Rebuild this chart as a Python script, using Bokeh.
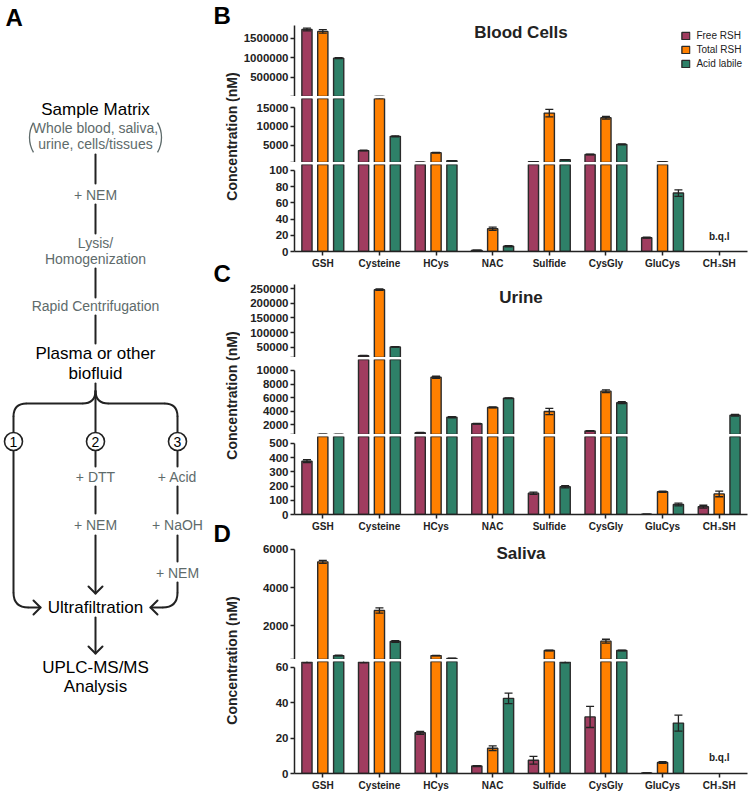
import math
import numpy as np
from bokeh.plotting import figure
from bokeh.models import (ColumnDataSource, FactorRange, Range1d, FixedTicker,
                          NumeralTickFormatter, Label, Legend, LegendItem, CDSView, BooleanFilter)
from bokeh.transform import dodge
from bokeh.layouts import row, column
from bokeh.embed import file_html
from bokeh.resources import INLINE
from bokeh.core.properties import value

NAN = float("nan")

# ------------------------------------------------------------------ data
categories = ["GSH", "Cysteine", "HCys", "NAC", "Sulfide", "CysGly", "GluCys", "CH₃SH"]
series = ["Free RSH", "Total RSH", "Acid labile"]

blood_free = [1717000, 3550, 430, 1.5, 600, 2500, 17, NAN]
blood_free_sd = [35000, 100, 20, 0.3, 30, 80, 0.6, NAN]
blood_total = [1667000, 17700, 3000, 28, 13550, 12300, 550, NAN]
blood_total_sd = [45000, 300, 100, 2, 1000, 350, 15, NAN]
blood_acid = [990000, 7350, 850, 6.5, 1100, 5200, 72, NAN]
blood_acid_sd = [15000, 150, 50, 0.8, 60, 120, 4, NAN]

urine_free = [375, 22000, 820, 2150, 150, 1080, 2, 55]
urine_free_sd = [10, 1500, 40, 50, 8, 60, 0.5, 10]
urine_total = [580, 246000, 9000, 4550, 3950, 6950, 160, 145]
urine_total_sd = [10, 2500, 150, 60, 450, 200, 5, 20]
urine_acid = [575, 52000, 3100, 5900, 195, 5250, 70, 3400]
urine_acid_sd = [10, 1000, 100, 60, 8, 150, 10, 120]

saliva_free = [63, 63, 23, 4.2, 7.5, 32, 0.3, NAN]
saliva_free_sd = [0.5, 0.5, 0.8, 0.3, 2.2, 6, 0.1, NAN]
saliva_total = [5350, 2790, 420, 14.3, 690, 1180, 6.2, NAN]
saliva_total_sd = [80, 140, 15, 1.3, 15, 100, 0.5, NAN]
saliva_acid = [420, 1160, 270, 42.5, 63, 690, 28.5, NAN]
saliva_acid_sd = [20, 40, 10, 3, 0.5, 15, 4.5, NAN]

# tick labels of each axis segment (top to bottom)
blood_ticks = [[500000, 1000000, 1500000], [5000, 10000, 15000], [0, 20, 40, 60, 80, 100]]
urine_ticks = [[50000, 100000, 150000, 200000, 250000], [2000, 4000, 6000, 8000, 10000],
               [0, 100, 200, 300, 400, 500]]
saliva_ticks = [[2000, 4000, 6000], [0, 20, 40, 60]]

# ------------------------------------------------------------------ style / layout
FONT = "Liberation Sans"
INK = "#222222"
EDGE = "#2a2a2a"
GREY = "#5e6b6b"
COLORS = ["#A03C5F", "#FF8000", "#2E8068"]
KEYS = ["free", "total", "acid"]
OFFSETS = [-0.28, 0.0, 0.28]
BAR_W = 0.18
TOTAL_H = 793
A_W = 205
SIDE_W = 35
SEG_W = 509
LEFT_B = 53

# broken-axis segments: data range, axis-line limits, frame height, borders
blood_segs = [dict(start=17500, end=1817000, lo=17500, hi=1817000, h=71, bt=25, bb=0),
              dict(start=376, end=17440, lo=376, hi=15000, h=64, bt=2, bb=0),
              dict(start=0, end=107.2, lo=0, hi=100, h=89, bt=2, bb=18)]
urine_segs = [dict(start=16090, end=263560, lo=16090, hi=263560, h=73, bt=13, bb=0),
              dict(start=555, end=11623, lo=555, hi=10000, h=75, bt=2, bb=0),
              dict(start=0, end=548.6, lo=0, hi=500, h=79, bt=2, bb=19)]
saliva_segs = [dict(start=214, end=6210, lo=214, hi=6000, h=114, bt=11, bb=0),
               dict(start=0, end=63.33, lo=0, hi=60, h=114, bt=2, bb=18)]


def make_source(groups):
    data = {"cat": categories}
    for k, (m, s) in zip(KEYS, groups):
        m = np.array(m, dtype=float)
        s = np.array(s, dtype=float)
        data[k] = m
        data[k + "_hi"] = m + s
        data[k + "_lo"] = m - s
    return ColumnDataSource(data)


def bare(p):
    p.title.visible = False
    p.outline_line_color = None
    p.xgrid.visible = False
    p.ygrid.visible = False
    p.border_fill_color = "white"
    p.background_fill_color = "white"


def style_axis(ax):
    ax.axis_line_width = 1.5
    ax.axis_line_color = INK
    ax.major_tick_line_width = 1.5
    ax.major_tick_line_color = INK
    ax.major_tick_out = 4
    ax.major_tick_in = 0
    ax.minor_tick_line_color = None
    ax.major_label_text_font = FONT
    ax.major_label_text_font_style = "bold"
    ax.major_label_text_color = INK


def view(mask):
    return CDSView(filter=BooleanFilter(booleans=[bool(b) for b in mask]))


def segment_fig(src, xr, seg, ticks, xaxis):
    p = figure(width=SEG_W, height=seg["h"] + seg["bt"] + seg["bb"], x_range=xr,
               y_range=Range1d(seg["start"], seg["end"]), output_backend="svg",
               tools="", toolbar_location=None, x_axis_location="below" if xaxis else None,
               min_border_left=LEFT_B, min_border_right=2, min_border_top=seg["bt"],
               min_border_bottom=seg["bb"])
    bare(p)
    s0, s1 = seg["start"], seg["end"]
    rs = []
    with np.errstate(invalid="ignore"):
        for k, off, col in zip(KEYS, OFFSETS, COLORS):
            x = dodge("cat", off, range=xr)
            v = np.asarray(src.data[k])
            hi = np.asarray(src.data[k + "_hi"])
            lo = np.asarray(src.data[k + "_lo"])
            # only marks that reach into this axis segment
            r = p.vbar(x=x, top=k, bottom=0, width=BAR_W, source=src, view=view(v > s0),
                       fill_color=col, line_color=EDGE, line_width=1.4)
            p.segment(x0=x, y0=k + "_lo", x1=x, y1=k + "_hi", source=src,
                      view=view((hi > s0) & (lo < s1)), line_color=INK, line_width=1.3)
            for end, arr in (("_hi", hi), ("_lo", lo)):
                p.scatter(x=x, y=k + end, source=src, view=view((arr > s0) & (arr < s1)),
                          marker="dash", size=8, line_color=INK, line_width=1.3)
            rs.append(r)
    ya = p.yaxis[0]
    style_axis(ya)
    tick_list = list(ticks)
    if not xaxis and seg["lo"] not in tick_list:
        # unlabeled end tick where the axis is broken
        tick_list = [seg["lo"]] + tick_list
        ya.major_label_overrides = {seg["lo"]: ""}
    ya.ticker = FixedTicker(ticks=tick_list)
    ya.formatter = NumeralTickFormatter(format="0")
    ya.bounds = (seg["lo"], seg["hi"])
    ya.major_label_text_font_size = "11.5px"
    ya.major_label_standoff = 2
    if xaxis:
        xa = p.xaxis[0]
        style_axis(xa)
        xa.major_label_text_font_size = "10px"
        xa.major_label_standoff = 2
    return p, rs


def px_to_y(seg, px):
    return seg["end"] - px * (seg["end"] - seg["start"]) / seg["h"]


def panel(src, segs, ticks, title, title_px, legend=False, bql_y=None):
    xr = FactorRange(factors=categories)
    figs = []
    for i, (seg, tk) in enumerate(zip(segs, ticks)):
        p, rs = segment_fig(src, xr, seg, tk, i == len(segs) - 1)
        figs.append(p)
        if i == 0:
            p.add_layout(Label(x=4.0, y=px_to_y(seg, title_px), text=title, text_font=FONT,
                               text_font_style="bold", text_font_size="17px", text_color=INK,
                               text_align="center", text_baseline="middle"))
            if legend:
                lg = Legend(items=[LegendItem(label=n, renderers=[r]) for n, r in zip(series, rs)],
                            location="top_right", padding=0, margin=5, spacing=3,
                            label_text_font=FONT, label_text_font_size="10px",
                            label_text_color=INK, label_height=10, glyph_width=10,
                            glyph_height=9, label_standoff=6, border_line_color=None,
                            background_fill_alpha=0)
                p.add_layout(lg)
    if bql_y is not None:
        figs[-1].add_layout(Label(x=7.5, y=bql_y, text="b.q.l", text_font=FONT,
                                  text_font_style="bold", text_font_size="10px",
                                  text_color=INK, text_align="center", text_baseline="middle"))
    return figs


blood_src = make_source([(blood_free, blood_free_sd), (blood_total, blood_total_sd),
                         (blood_acid, blood_acid_sd)])
urine_src = make_source([(urine_free, urine_free_sd), (urine_total, urine_total_sd),
                         (urine_acid, urine_acid_sd)])
saliva_src = make_source([(saliva_free, saliva_free_sd), (saliva_total, saliva_total_sd),
                          (saliva_acid, saliva_acid_sd)])

figs = (panel(blood_src, blood_segs, blood_ticks, "Blood Cells", 7, legend=True, bql_y=19)
        + panel(urine_src, urine_segs, urine_ticks, "Urine", 13)
        + panel(saliva_src, saliva_segs, saliva_ticks, "Saliva", 8, bql_y=9))

# ------------------------------------------------------------------ side strip: panel letters + y titles
side = figure(width=SIDE_W, height=TOTAL_H, x_range=Range1d(A_W, A_W + SIDE_W),
              y_range=Range1d(TOTAL_H, 0), output_backend="svg", tools="",
              toolbar_location=None, min_border=0, x_axis_location=None, y_axis_location=None)
bare(side)
for letter, ly in zip(["B", "C", "D"], [1, 259, 519]):
    side.add_layout(Label(x=213, y=ly, text=letter, text_font=FONT, text_font_style="bold",
                          text_font_size="24px", text_color="black", text_baseline="top"))
for cy in [136, 395, 660]:
    side.add_layout(Label(x=231, y=cy, text="Concentration (nM)", angle=math.pi / 2,
                          text_font=FONT, text_font_style="bold", text_font_size="14px",
                          text_color=INK, text_align="center", text_baseline="middle"))

# ------------------------------------------------------------------ panel A (flow chart)
A = figure(width=A_W, height=TOTAL_H, x_range=Range1d(0, A_W), y_range=Range1d(TOTAL_H, 0),
           output_backend="svg", tools="", toolbar_location=None, min_border=0,
           x_axis_location=None, y_axis_location=None)
bare(A)

main_text = ["Sample Matrix", "Plasma or other", "biofluid", "Ultrafiltration",
             "UPLC-MS/MS", "Analysis"]
main_x = [95, 95, 95, 95, 95, 95]
main_y = [109, 353, 373, 607, 667, 686]
step_text = ["Whole blood, saliva,", "urine, cells/tissues", "+ NEM", "Lysis/", "Homogenization",
             "Rapid Centrifugation", "+ DTT", "+ NEM", "+ Acid", "+ NaOH", "+ NEM"]
step_x = [95, 95, 95, 95, 95, 95, 95, 95, 177, 177, 177]
step_y = [127, 143, 194, 242, 258, 305, 476, 524, 476, 524, 572]
route_text = ["1", "2", "3"]
route_x = [13, 95, 177]
route_y = [441, 441, 441]

lines_x = [[95, 95], [95, 95], [95, 95], [95, 95], [95, 95],
           [82, 26], [13, 13], [108, 164], [177, 177],
           [13, 13], [28, 40], [33, 40, 33],
           [95, 95], [95, 95], [95, 95], [88, 95, 102],
           [177, 177], [177, 177], [177, 177], [177, 177], [162, 150], [157, 150, 157],
           [95, 95], [88, 95, 102]]
lines_y = [[154, 183], [204, 233], [268, 297], [315, 343], [383, 432],
           [403, 403], [416, 432], [403, 403], [416, 432],
           [450, 592], [607, 607], [600, 607, 614],
           [450, 466], [486, 513], [535, 593], [586, 593, 586],
           [450, 466], [486, 513], [535, 561], [582, 592], [607, 607], [600, 607, 614],
           [617, 653], [646, 653, 646]]
A.multi_line(xs=lines_x, ys=lines_y, line_color=INK, line_width=2,
             line_join="round", line_cap="round")
A.quadratic(x0=[95, 26, 95, 164, 13, 177], y0=[390, 403, 390, 403, 592, 592],
            x1=[82, 13, 108, 177, 28, 162], y1=[403, 416, 403, 416, 607, 607],
            cx=[95, 13, 95, 177, 13, 177], cy=[403, 403, 403, 403, 607, 607],
            line_color=INK, line_width=2)
A.arc(x=[59, 131], y=[137, 137], radius=30, start_angle=[math.pi - 0.52, -0.52],
      end_angle=[math.pi + 0.52, 0.52], line_color=GREY, line_width=1.3)
A.circle(x=route_x, y=route_y, radius=9, fill_color="white", line_color=INK, line_width=1.6)

A.text(x=main_x, y=main_y, text=main_text, text_font=value(FONT), text_font_size=value("17px"),
       text_color=value("black"), text_align=value("center"), text_baseline=value("middle"))
A.text(x=step_x, y=step_y, text=step_text, text_font=value(FONT), text_font_size=value("14px"),
       text_color=value(GREY), text_align=value("center"), text_baseline=value("middle"))
A.text(x=route_x, y=route_y, text=route_text, text_font=value(FONT),
       text_font_size=value("14px"), text_color=value("black"), text_align=value("center"),
       text_baseline=value("middle"))
A.add_layout(Label(x=5, y=3, text="A", text_font=FONT, text_font_style="bold",
                   text_font_size="24px", text_color="black", text_baseline="top"))

layout = row(A, side, column(figs, spacing=0))
open("out.html", "w").write(file_html(layout, INLINE, "Thiol concentrations"))
